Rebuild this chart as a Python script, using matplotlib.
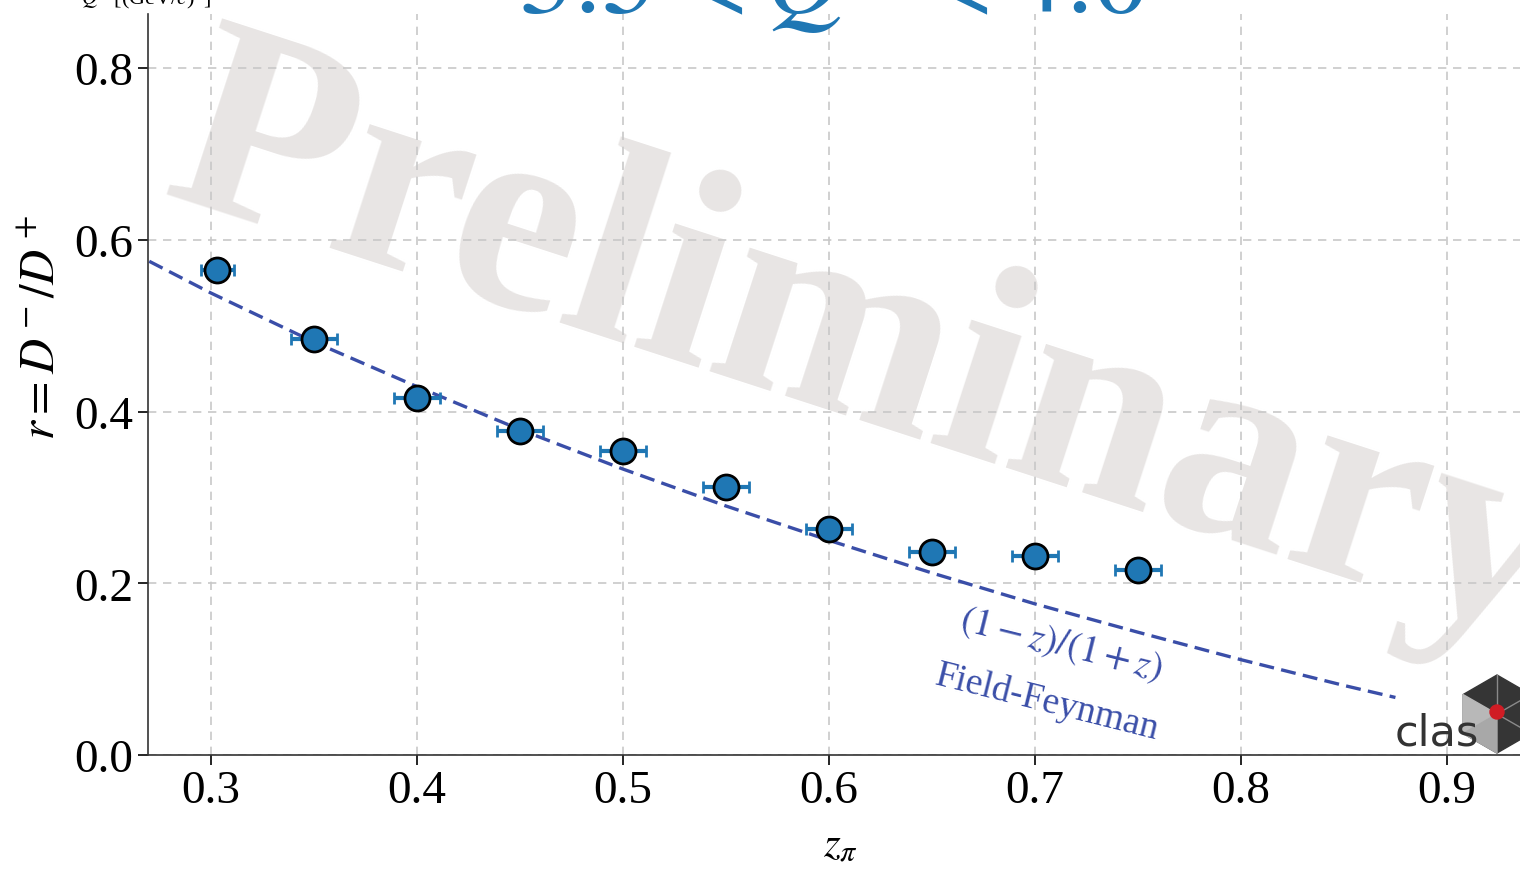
import matplotlib
matplotlib.use("Agg")
import matplotlib.pyplot as plt
from matplotlib.patches import RegularPolygon, Polygon, Circle

plt.rcParams['font.family'] = ['Liberation Serif', 'DejaVu Serif']
plt.rcParams['mathtext.fontset'] = 'stix'

# measured ratio r = D-/D+ vs z_pi
z_pi = [0.303, 0.350, 0.400, 0.450, 0.500, 0.550, 0.600, 0.650, 0.700, 0.750]
r_val = [0.565, 0.484, 0.416, 0.377, 0.354, 0.312, 0.263, 0.236, 0.232, 0.215]
z_err = [0.008, 0.011, 0.011, 0.011, 0.011, 0.011, 0.011, 0.011, 0.011, 0.011]
r_err = [0.006, 0.006, 0.006, 0.006, 0.006, 0.006, 0.006, 0.006, 0.006, 0.008]

# Field-Feynman curve (1-z)/(1+z)
z_ff = [0.27, 0.30, 0.35, 0.40, 0.45, 0.50, 0.55, 0.60, 0.65, 0.70, 0.75, 0.80, 0.85, 0.875]
r_ff = [0.575, 0.538, 0.481, 0.429, 0.379, 0.333, 0.290, 0.250, 0.212, 0.176, 0.143, 0.111, 0.081, 0.067]

xticks = [0.3, 0.4, 0.5, 0.6, 0.7, 0.8, 0.9]
yticks = [0.0, 0.2, 0.4, 0.6, 0.8]

blue = '#1f77b4'
ff_col = '#3a4ea8'

fig = plt.figure(figsize=(15.2, 8.7), dpi=100)
ax = fig.add_axes([148/1520, 114/870, 1384/1520, 741/870])

ax.set_xlim(0.2694, 0.9413)
ax.set_ylim(0, 0.863)
ax.set_axisbelow(True)
ax.grid(True, ls=(0, (5, 4)), color='#c8c8c8', lw=1.2)

# watermark
ax.text(0.618, 0.47, 'Preliminary', fontsize=202, fontweight='bold', color='#e8e5e4',
        rotation=-18, ha='center', va='center', rotation_mode='anchor', zorder=0.1)

ax.plot(z_ff, r_ff, ls=(0, (4.5, 2.2)), color=ff_col, lw=2.4, zorder=2)
ax.errorbar(z_pi, r_val, xerr=z_err, yerr=r_err, fmt='o', ms=18, mfc=blue, mec='k',
            mew=2.0, ecolor=blue, elinewidth=3, capsize=4, capthick=3, zorder=3)

ax.text(0.713, 0.130, r'$(1-z)/(1+z)$', fontsize=28, color=ff_col, rotation=-14,
        ha='center', va='center', rotation_mode='anchor')
ax.text(0.706, 0.062, 'Field-Feynman', fontsize=27, color=ff_col, rotation=-14,
        ha='center', va='center', rotation_mode='anchor')

ax.set_xticks(xticks)
ax.set_yticks(yticks)
ax.set_xticklabels([f'{t:.1f}' for t in xticks])
ax.set_yticklabels([f'{t:.1f}' for t in yticks])
ax.tick_params(labelsize=34, length=7, width=1.2, direction='out')
ax.set_xlabel(r'$z_\pi$', fontsize=31, labelpad=10)
ax.set_ylabel(r'$r = D^-/D^+$', fontsize=35)
ax.yaxis.set_label_coords(-0.060, 0.578)
for s in ['top', 'right']:
    ax.spines[s].set_visible(False)
for s in ['left', 'bottom']:
    ax.spines[s].set_color('#333333')
    ax.spines[s].set_linewidth(1.2)

fig.text(833/1520, 1 - 13/870, r'$3.5 < Q^2 < 4.0$', fontsize=80, color=blue,
         ha='center', va='baseline')
fig.text(146/1520, 1 - 4/870, r'$Q^2$ [(GeV/$c$)$^2$]', fontsize=16, ha='center', va='baseline')

# CLAS logo, drawn in a small axes with 1 unit = 1 pixel
lax = fig.add_axes([1380/1520, 1 - 760/870, 160/1520, 90/870])
lax.set_xlim(0, 160)
lax.set_ylim(0, 90)
lax.axis('off')
lax.add_patch(RegularPolygon((117, 45), 6, radius=39, orientation=0.0, color='#353535'))
lax.add_patch(Polygon([(117, 45), (83, 25.5), (83, 64.5)], color='#b8b8b8'))
lax.add_patch(Polygon([(117, 45), (83, 25.5), (117, 6)], color='#a8a8a8'))
for x2, y2 in [(151, 64.5), (151, 25.5), (117, 84)]:
    lax.plot([117, x2], [45, y2], color='#8a8a8a', lw=1)
lax.add_patch(Circle((117, 47), 7, color='#d01c24', zorder=4))
lax.text(15, 15, 'clas', fontsize=31, color='#333333', family='DejaVu Sans',
         ha='left', va='baseline', zorder=5)

fig.savefig('out.png', dpi=100)
